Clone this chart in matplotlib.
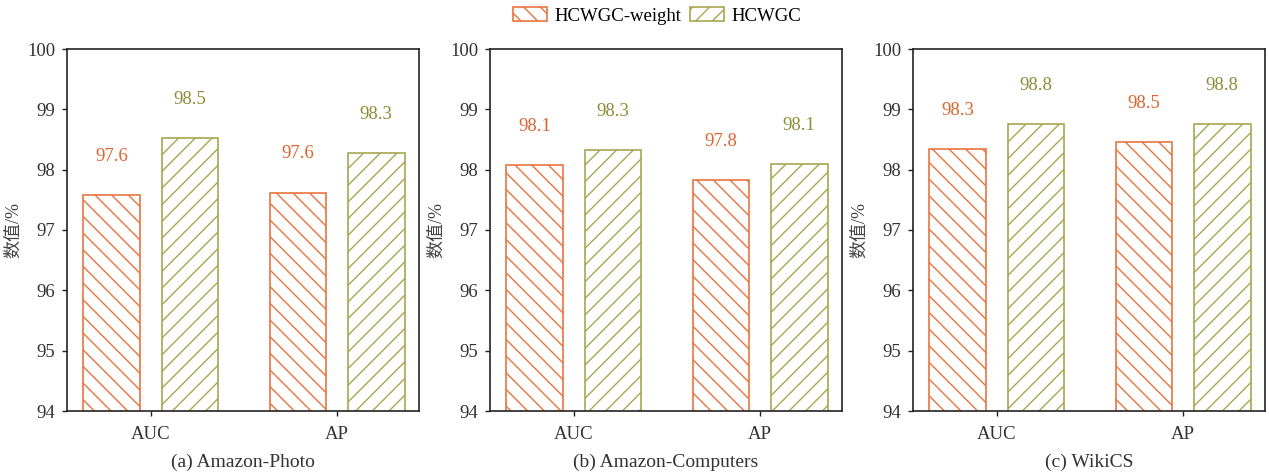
import matplotlib
matplotlib.use("Agg")
import matplotlib.pyplot as plt
import numpy as np

# data
metrics = ["AUC", "AP"]
titles = ["(a) Amazon-Photo", "(b) Amazon-Computers", "(c) WikiCS"]
series_names = ["HCWGC-weight", "HCWGC"]
weight_vals = [[97.58, 97.62], [98.07, 97.83], [98.34, 98.46]]
full_vals = [[98.53, 98.27], [98.33, 98.09], [98.75, 98.76]]
weight_labels = [["97.6", "97.6"], ["98.1", "97.8"], ["98.3", "98.5"]]
full_labels = [["98.5", "98.3"], ["98.3", "98.1"], ["98.8", "98.8"]]

orange = "#E8743F"
green = "#A8A650"
orange_txt = "#E0622C"
green_txt = "#8E8C35"

plt.rcParams["font.family"] = ["Liberation Serif", "DejaVu Serif"]
plt.rcParams["font.size"] = 13.5
plt.rcParams["hatch.linewidth"] = 1.0

fig = plt.figure(figsize=(12.69, 4.76), dpi=100)
W, H = 1269, 476
lefts = [67, 490, 913]
ax_w = 352
top, bottom = 49, 411

x = np.arange(len(metrics))
bw = 0.305
off = 0.21

handles = None
for i in range(3):
    ax = fig.add_axes([lefts[i] / W, 1 - bottom / H, ax_w / W, (bottom - top) / H])
    b1 = ax.bar(x - off, weight_vals[i], bw, bottom=0, color="white",
                edgecolor=orange, hatch="\\\\", linewidth=1.2)
    b2 = ax.bar(x + off, full_vals[i], bw, bottom=0, color="white",
                edgecolor=green, hatch="//", linewidth=1.2)
    if handles is None:
        handles = [b1, b2]
    for j in range(len(metrics)):
        ax.text(x[j] - off, weight_vals[i][j] + 0.64, weight_labels[i][j],
                ha="center", va="center", color=orange_txt, fontsize=13.5)
        ax.text(x[j] + off, full_vals[i][j] + 0.64, full_labels[i][j],
                ha="center", va="center", color=green_txt, fontsize=13.5)
    ax.set_ylim(94, 100)
    ax.set_xlim(-0.45, 1.44)
    ax.set_yticks([94, 95, 96, 97, 98, 99, 100])
    ax.set_xticks(x)
    ax.set_xticklabels(metrics)
    ax.tick_params(direction="out", length=3.5, width=1.0, colors="#222222",
                   labelsize=13.5, labelcolor="#333333", pad=5)
    ax.tick_params(axis="x", pad=7)
    for s in ax.spines.values():
        s.set_linewidth(1.2)
        s.set_color("#222222")
    ax.set_ylabel("数值/%", family=["Liberation Serif", "Noto Sans CJK SC"],
                  fontsize=13, color="#444444", labelpad=4)
    ax.set_xlabel(titles[i], fontsize=14, color="#333333", labelpad=8)

fig.legend(handles, series_names, loc="center", bbox_to_anchor=(657 / W, 1 - 16 / H),
           ncol=2, frameon=False, fontsize=13.5, handlelength=1.8, handleheight=0.7,
           columnspacing=0.5, handletextpad=0.4)

plt.savefig("out.png", dpi=100)
